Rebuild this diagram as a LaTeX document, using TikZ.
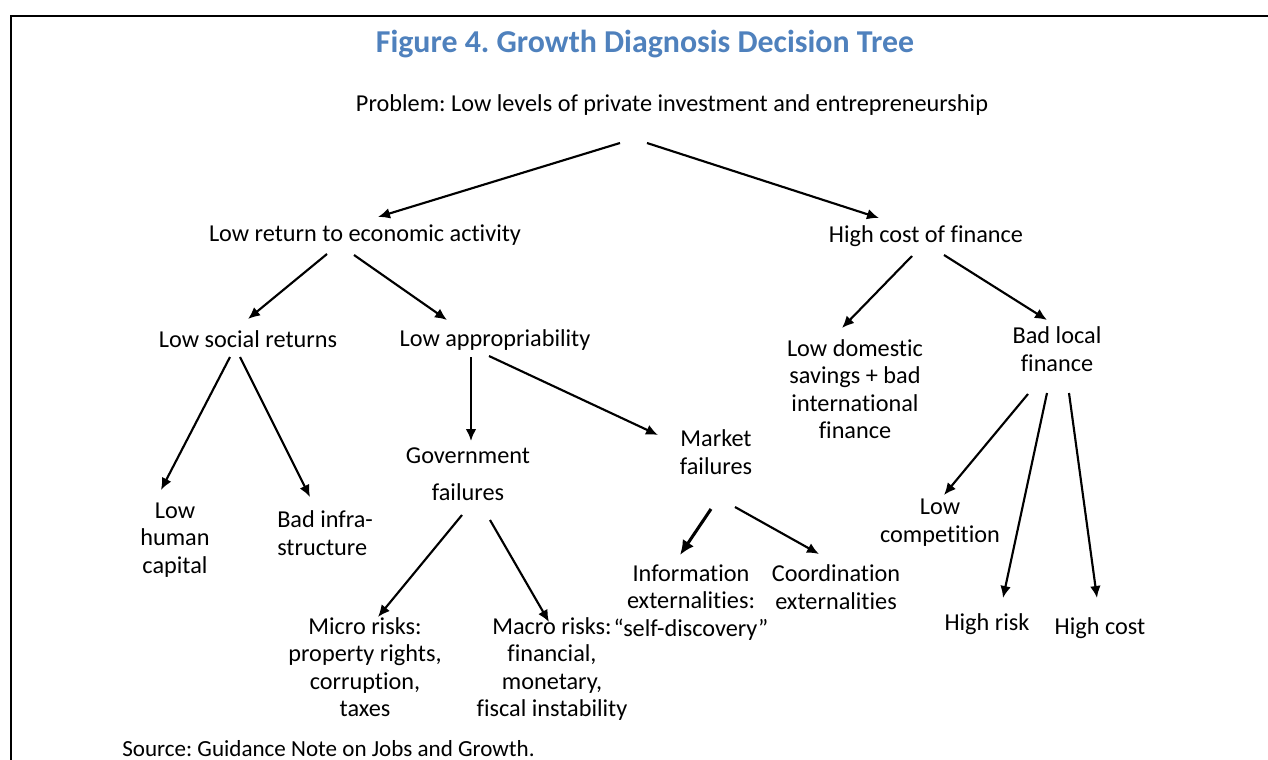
\documentclass[tikz,border=0pt]{standalone}
\usepackage{fontspec}
\setmainfont{Carlito}[Ligatures=NoCommon]
\usetikzlibrary{arrows.meta,calc}
\definecolor{titleblue}{RGB}{79,129,189}
\frenchspacing
\begin{document}
\begin{tikzpicture}[x=0.75pt,y=-0.75pt]
\tikzset{
  lbl/.style={font=\fontsize{18.2}{20.6}\selectfont, inner sep=0pt, align=center, anchor=base},
  lblgov/.style={font=\fontsize{18.2}{27.7}\selectfont, inner sep=0pt, align=center, anchor=base},
  arr/.style={line width=1.6pt, -{Latex[length=9pt,width=8pt]}},
  arrbold/.style={line width=2.3pt, -{Latex[length=11pt,width=10pt]}},
  frame/.style={line width=1.6pt}
}
\useasboundingbox (0,0) rectangle (1268,760);
\fill[white] (0,0) rectangle (1268,760);
\draw[frame] (11,760) -- (11,16) -- (1268,16);

\node[font=\fontsize{23.9}{28}\selectfont\bfseries, text=titleblue, inner sep=0pt, anchor=base] (title) at (645,52) {Figure 4. Growth Diagnosis Decision Tree};

% single-line nodes: base = baseline; multi-line nodes: base = baseline of last line
\node[lbl] (prob) at (672,111.5) {Problem: Low levels of private investment and entrepreneurship};
\node[lbl] (lowret) at (365,241.5) {Low return to economic activity};
\node[lbl] (highcost) at (926,242.5) {High cost of finance};
\node[lbl] (lowsoc) at (248,347.5) {Low social returns};
\node[lbl] (lowapp) at (495,346.5) {Low appropriability};
\node[lbl] (lowdom) at (855,438.9) {Low domestic\\savings + bad\\international\\finance};
\node[lbl] (badlocal) at (1057,371) {Bad local\\finance};
\node[lblgov] (gov) at (468,500.4) {Government\\failures};
\node[lbl] (market) at (716,474) {Market\\failures};
\node[lbl] (lowhc) at (175,573.4) {Low\\human\\capital};
\node[lbl, align=left, anchor=base west] (badinfra) at (277,555) {Bad infra-\\structure};
\node[lbl] (micro) at (365,716.9) {Micro risks:\\property rights,\\corruption,\\taxes};
\node[lbl] (macro) at (552,716.9) {Macro risks:\\financial,\\monetary,\\fiscal instability};
\node[lbl] (info) at (691,636.4) {Information\\externalities:\\“self-discovery”};
\node[lbl] (coord) at (836,609) {Coordination\\externalities};
\node[lbl] (lowcomp) at (940,542) {Low\\competition};
\node[lbl] (highrisk) at (987,630.5) {High risk};
\node[lbl] (highcost2) at (1100,634.5) {High cost};

\node[font=\fontsize{17.3}{20}\selectfont, inner sep=0pt, anchor=base west] (source) at (122,756) {Source: Guidance Note on Jobs and Growth.};

\draw[arr] ($(prob.base)+(-52,31.5)$) -- ($(lowret.base)+(13,-24.5)$);
\draw[arr] ($(prob.base)+(-25,31.5)$) -- ($(highcost.base)+(-47,-24.5)$);
\draw[arr] ($(lowret.base)+(-38,12.5)$) -- ($(lowsoc.base)+(0,-28.5)$);
\draw[arr] ($(lowret.base)+(-11,13.5)$) -- ($(lowapp.base)+(-48,-26.5)$);
\draw[arr] ($(highcost.base)+(-14,13.5)$) -- ($(lowdom.base)+(-13,-110.9)$);
\draw[arr] ($(highcost.base)+(18,12.5)$) -- ($(badlocal.base)+(-10,-51)$);
\draw[arr] ($(lowsoc.base)+(-18,9.5)$) -- ($(lowhc.base)+(-14,-83.4)$);
\draw[arr] ($(lowsoc.base)+(-8,9.5)$) -- ($(badinfra.base west)+(33,-58)$);
\draw[arr] ($(lowapp.base)+(-24,10.5)$) -- ($(gov.base)+(3,-59.4)$);
\draw[arr] ($(lowapp.base)+(-6,9.5)$) -- ($(market.base)+(-58,-39)$);
\draw[arr] ($(gov.base)+(-6,14.6)$) -- ($(micro.base)+(13,-99.9)$);
\draw[arr] ($(gov.base)+(22,19.6)$) -- ($(macro.base)+(-3,-94.9)$);
\draw[arrbold] ($(market.base)+(-5,35)$) -- ($(info.base)+(-11,-81.4)$);
\draw[arr] ($(market.base)+(19,33)$) -- ($(coord.base)+(-17,-55)$);
\draw[arr] ($(badlocal.base)+(-29,23)$) -- ($(lowcomp.base)+(4,-47)$);
\draw[arr] ($(badlocal.base)+(-10,22)$) -- ($(highrisk.base)+(16,-32.5)$);
\draw[arr] ($(badlocal.base)+(12,22)$) -- ($(highcost2.base)+(-3,-36.5)$);
\end{tikzpicture}
\end{document}
